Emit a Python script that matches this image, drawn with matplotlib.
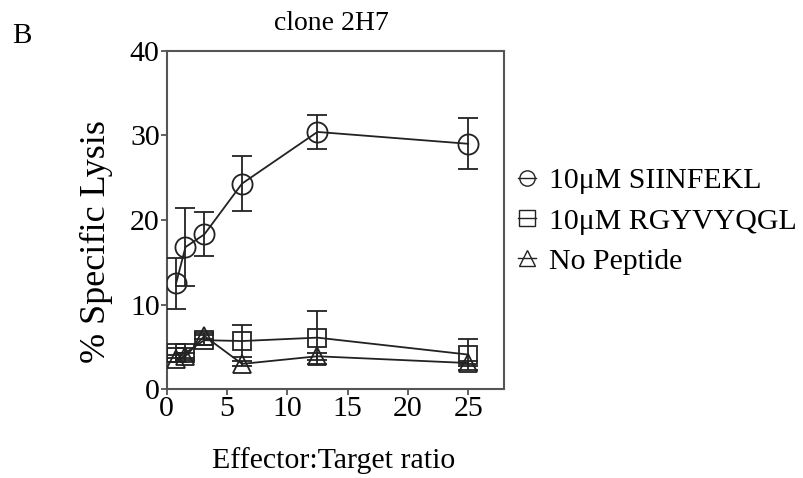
import matplotlib
matplotlib.use("Agg")
import matplotlib.pyplot as plt
from matplotlib.lines import Line2D

plt.rcParams['font.family'] = ['Liberation Serif', 'DejaVu Serif']

ratio = [0.78, 1.56, 3.125, 6.25, 12.5, 25]

siinfekl = [12.5, 16.8, 18.3, 24.3, 30.4, 29.0]
siinfekl_err = [3.0, 4.6, 2.6, 3.2, 2.0, 3.0]

rgyvyqgl = [4.3, 4.3, 5.8, 5.7, 6.1, 4.1]
rgyvyqgl_err = [0.6, 0.6, 0.6, 1.9, 3.1, 1.8]

no_peptide = [3.6, 3.9, 6.3, 3.0, 3.9, 3.1]
no_peptide_err = [0.4, 0.4, 0.4, 0.3, 0.4, 0.3]

labels = ["10\u03bcM SIINFEKL", "10\u03bcM RGYVYQGL", "No Peptide"]
markers = ["o", "s", "^"]

ink = '#222222'

fig = plt.figure(figsize=(8.04, 4.78), dpi=100)
ax = fig.add_axes([0.2073, 0.1856, 0.4200, 0.7084])

series = [(siinfekl, siinfekl_err), (rgyvyqgl, rgyvyqgl_err), (no_peptide, no_peptide_err)]
for (vals, errs), m in zip(series, markers):
    ax.errorbar(ratio, vals, yerr=errs, color=ink, lw=1.3, marker=m,
                markersize=14.5 if m == 'o' else 13, markerfacecolor='none',
                markeredgecolor=ink, markeredgewidth=1.3,
                capsize=7, capthick=1.3, elinewidth=1.3, zorder=3)

ax.set_xlim(0, 28)
ax.set_ylim(0, 40)
ax.set_xticks([0, 5, 10, 15, 20, 25])
ax.set_yticks([0, 10, 20, 30, 40])
for s in ax.spines.values():
    s.set_linewidth(1.5)
    s.set_color('#555555')
ax.tick_params(direction='out', length=4, width=1.3, color='#555555',
               labelsize=21.5, pad=1)
ax.set_ylabel("% Specific Lysis", fontsize=26)
ax.yaxis.set_label_coords(-0.16, 0.4365)
ax.set_xlabel("Effector:Target ratio", fontsize=21.5)
ax.xaxis.set_label_coords(0.494, -0.172)
ax.xaxis.label.set_va('top')
ax.set_title("clone 2H7", fontsize=20, pad=15, x=0.488)

fig.text(0.015, 0.91, "B", fontsize=21, va='baseline')

handles = [Line2D([0], [0], color=ink, lw=1.0, marker=m, markersize=11,
                  markerfacecolor='none', markeredgecolor=ink) for m in markers]
fig.legend(handles, labels, loc='upper left', bbox_to_anchor=(0.644, 0.650),
           frameon=False, fontsize=21.5, handlelength=0.6, handletextpad=0.45,
           labelspacing=0.45, borderaxespad=0, borderpad=0)

fig.savefig("out.png", dpi=100)
